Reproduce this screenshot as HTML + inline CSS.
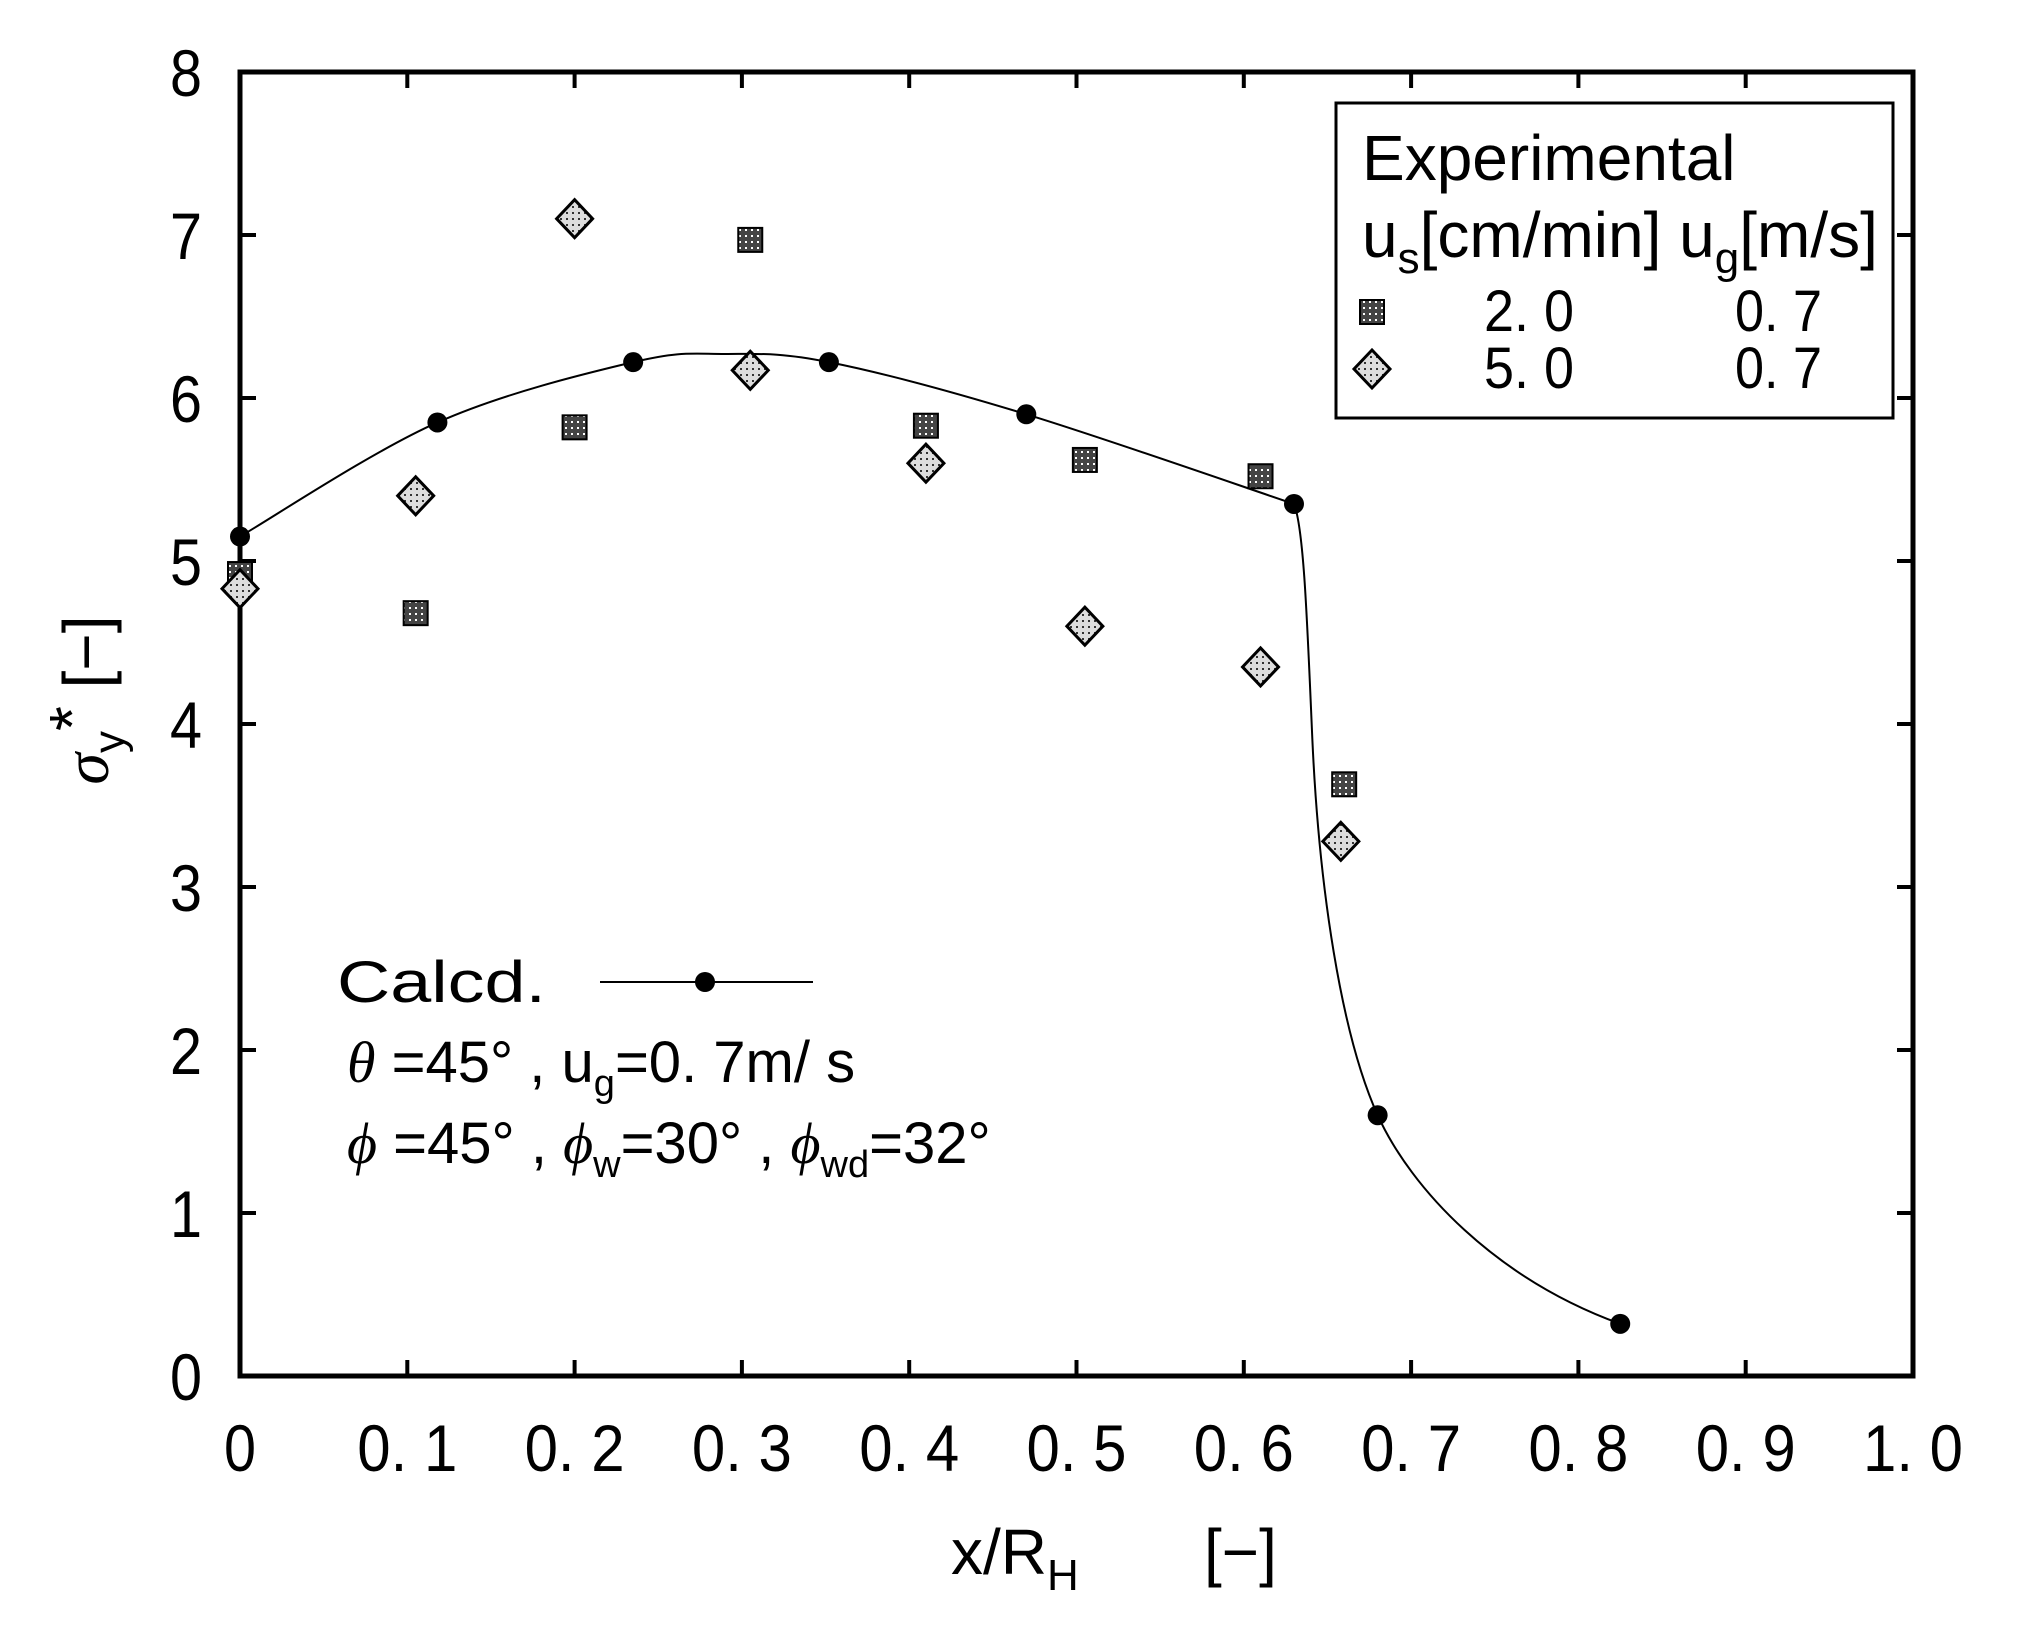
<!DOCTYPE html>
<html><head><meta charset="utf-8"><style>
html,body{margin:0;padding:0;background:#fff;}
svg{display:block;}
text{font-family:"Liberation Sans",sans-serif;fill:#000;}
</style></head><body>
<svg id="s" width="2017" height="1630" viewBox="0 0 2017 1630" xmlns="http://www.w3.org/2000/svg">
<defs>
<pattern id="pd" width="6" height="6" patternUnits="userSpaceOnUse"><rect width="6" height="6" fill="#444"/><rect x="1" y="1" width="2" height="2" fill="#fff"/></pattern>
<pattern id="pl" width="6" height="6" patternUnits="userSpaceOnUse"><rect width="6" height="6" fill="#ddd"/><rect x="2" y="2" width="2" height="2" fill="#333"/></pattern>
</defs>
<rect x="240" y="72" width="1673" height="1304" fill="none" stroke="#000" stroke-width="5"/>
<g id="ticks" stroke="#000" stroke-width="4"></g>
<g id="labels" font-size="66"></g>
<path id="curve" fill="none" stroke="#000" stroke-width="2"/>
<g id="pts"></g>
<rect x="1336" y="103" width="557" height="315" fill="#fff" stroke="#000" stroke-width="3"/>
<text x="1362" y="180" font-size="64">Experimental</text>
<text x="1362" y="257" font-size="64">u<tspan font-size="44" dy="16">s</tspan><tspan dy="-16">[cm/min] u</tspan><tspan font-size="44" dy="16">g</tspan><tspan dy="-16">[m/s]</tspan></text>
<rect x="1360" y="300" width="24" height="24" fill="url(#pd)" stroke="#000" stroke-width="2"/>
<polygon points="1372,350 1390,369 1372,388 1354,369" fill="url(#pl)" stroke="#000" stroke-width="3"/>
<g font-size="58">
<text x="1484" y="331" textLength="90" lengthAdjust="spacingAndGlyphs">2. 0</text>
<text x="1735" y="331" textLength="87" lengthAdjust="spacingAndGlyphs">0. 7</text>
<text x="1484" y="388" textLength="90" lengthAdjust="spacingAndGlyphs">5. 0</text>
<text x="1735" y="388" textLength="87" lengthAdjust="spacingAndGlyphs">0. 7</text>
</g>
<text x="337" y="1002" font-size="58" textLength="209" lengthAdjust="spacingAndGlyphs">Calcd.</text>
<line x1="600" y1="982" x2="813" y2="982" stroke="#000" stroke-width="2"/>
<circle cx="705" cy="982" r="10" fill="#000"/>
<text x="347" y="1082" font-size="58"><tspan font-family="Liberation Serif" font-style="italic">θ</tspan> =45°  , u<tspan font-size="38" dy="14">g</tspan><tspan dy="-14">=0. 7m/ s</tspan></text>
<text x="347" y="1163" font-size="58"><tspan font-family="Liberation Serif" font-style="italic">ϕ</tspan> =45°  , <tspan font-family="Liberation Serif" font-style="italic">ϕ</tspan><tspan font-size="38" dy="14">w</tspan><tspan dy="-14">=30°  , </tspan><tspan font-family="Liberation Serif" font-style="italic">ϕ</tspan><tspan font-size="38" dy="14">wd</tspan><tspan dy="-14">=32°</tspan></text>
<text x="951" y="1574" font-size="64">x/R<tspan font-size="44" dy="16">H</tspan><tspan dy="-16" x="1204">[−]</tspan></text>
<text transform="translate(108,700) rotate(-90)" font-size="64" text-anchor="middle"><tspan font-family="Liberation Serif" font-style="italic">σ</tspan><tspan font-size="44" dy="16">y</tspan><tspan dy="-30">*</tspan><tspan dy="14">  [−]</tspan></text>
</svg>
<script>
var X=v=>240+v*1673, Y=v=>1376-v*163;
var t=document.getElementById('ticks'),L=document.getElementById('labels'),ns="http://www.w3.org/2000/svg";
function el(p,n,a,txt){var e=document.createElementNS(ns,n);for(var k in a)e.setAttribute(k,a[k]);if(txt)e.textContent=txt;p.appendChild(e);return e;}
for(var i=0;i<=8;i++){var y=Y(i);el(t,'line',{x1:240,y1:y,x2:256,y2:y});el(t,'line',{x1:1897,y1:y,x2:1913,y2:y});
el(L,'text',{x:186,y:y+24,'text-anchor':'middle',textLength:32,lengthAdjust:'spacingAndGlyphs'},String(i));}
var xl=['0','0. 1','0. 2','0. 3','0. 4','0. 5','0. 6','0. 7','0. 8','0. 9','1. 0'];
for(var i=0;i<=10;i++){var x=X(i/10);el(t,'line',{x1:x,y1:1360,x2:x,y2:1376});el(t,'line',{x1:x,y1:72,x2:x,y2:88});
var a={x:x,y:1471,'text-anchor':'middle',lengthAdjust:'spacingAndGlyphs',textLength:i>0?100:32};
el(L,'text',a,xl[i]);}
function spline(cp){var P=cp.map(p=>[X(p[0]),Y(p[1])]);var d='M'+P[0][0]+','+P[0][1];
for(var i=0;i<P.length-1;i++){var p0=P[Math.max(i-1,0)],p1=P[i],p2=P[i+1],p3=P[Math.min(i+2,P.length-1)];
d+=' C'+(p1[0]+(p2[0]-p0[0])/6)+','+(p1[1]+(p2[1]-p0[1])/6)+' '+(p2[0]-(p3[0]-p1[0])/6)+','+(p2[1]-(p3[1]-p1[1])/6)+' '+p2[0]+','+p2[1];}return d;}
var d1=spline([[0,5.15],[0.118,5.85],[0.235,6.22],[0.29,6.27],[0.352,6.22],[0.47,5.9],[0.63,5.35]]);
var a=[X(0.63),Y(5.35)];
var d2=' C'+X(0.636)+','+Y(5.2)+' '+X(0.638)+','+Y(4.6)+' '+X(0.641)+','+Y(3.9)
+' C'+X(0.645)+','+Y(3.0)+' '+X(0.658)+','+Y(2.1)+' '+X(0.68)+','+Y(1.6)
+' C'+X(0.70)+','+Y(1.15)+' '+X(0.75)+','+Y(0.6)+' '+X(0.825)+','+Y(0.32);
document.getElementById('curve').setAttribute('d',d1+d2);
var g=document.getElementById('pts');
[[0,5.15],[0.118,5.85],[0.235,6.22],[0.352,6.22],[0.47,5.9],[0.63,5.35],[0.68,1.6],[0.825,0.32]].forEach(p=>el(g,'circle',{cx:X(p[0]),cy:Y(p[1]),r:10,fill:'#000'}));
[[0,4.92],[0.105,4.68],[0.2,5.82],[0.305,6.97],[0.41,5.83],[0.505,5.62],[0.61,5.52],[0.66,3.63]].forEach(p=>el(g,'rect',{x:X(p[0])-12,y:Y(p[1])-12,width:24,height:24,fill:'url(#pd)',stroke:'#000','stroke-width':2}));
[[0,4.83],[0.105,5.4],[0.2,7.1],[0.305,6.17],[0.41,5.6],[0.505,4.6],[0.61,4.35],[0.658,3.28]].forEach(p=>{var x=X(p[0]),y=Y(p[1]);el(g,'polygon',{points:x+','+(y-19)+' '+(x+18)+','+y+' '+x+','+(y+19)+' '+(x-18)+','+y,fill:'url(#pl)',stroke:'#000','stroke-width':3});});
</script>
</body></html>
